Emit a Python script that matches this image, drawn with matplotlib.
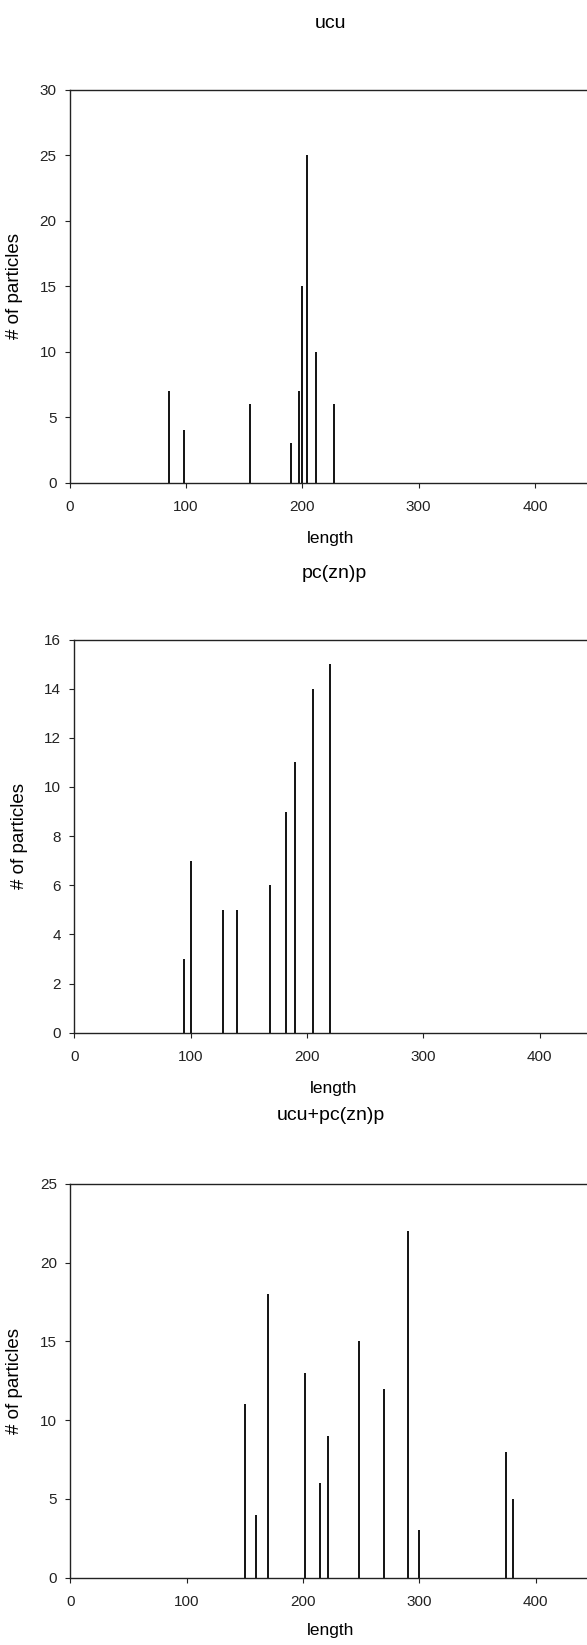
import numpy as np
import matplotlib
matplotlib.use("Agg")
import matplotlib.pyplot as plt

plt.rcParams['font.family'] = ['Liberation Sans', 'DejaVu Sans']

# ucu
ucu_len = [85, 98, 155, 190, 197, 200, 204, 212, 227]
ucu_cnt = [7, 4, 6, 3, 7, 15, 25, 10, 6]

# pc(zn)p
pc_len = [94, 100, 128, 140, 168, 182, 190, 205, 220]
pc_cnt = [3, 7, 5, 5, 6, 9, 11, 14, 15]

# ucu+pc(zn)p
mix_len = [150, 160, 170, 202, 215, 222, 248, 270, 290, 300, 375, 381]
mix_cnt = [11, 4, 18, 13, 6, 9, 15, 12, 22, 3, 8, 5]

titles = ["ucu", "pc(zn)p", "ucu+pc(zn)p"]
ymaxes = [30, 16, 25]
ysteps = [5, 2, 5]

W, H = 587, 1645
fig = plt.figure(figsize=(W / 100, H / 100), dpi=100)

# axes boxes in pixels: left, top, bottom  (x scale ~116 px per 100)
boxes = [(69.7, 89.5, 482.7), (74.4, 639.5, 1032.7), (70.3, 1183.7, 1577.7)]
title_y = [23, 573, 1116]
title_x = [331, 334, 331]
xlab_y = [538, 1088, 1630]
data = [(ucu_len, ucu_cnt), (pc_len, pc_cnt), (mix_len, mix_cnt)]

for i in range(3):
    left, top, bot = boxes[i]
    ax = fig.add_axes([left / W, 1 - bot / H, 697.8 / W, (bot - top) / H])
    x, y = data[i]
    ax.vlines(x, 0, y, colors='black', lw=1.3)
    ax.set_xlim(0, 600)
    ax.set_ylim(0, ymaxes[i])
    ax.set_xticks([0, 100, 200, 300, 400])
    ax.set_yticks(np.arange(0, ymaxes[i] + 1, ysteps[i]))
    ax.tick_params(direction='out', length=3.5, width=0.8, labelsize=11, colors='#222222')
    ax.tick_params(axis='x', pad=9)
    ax.tick_params(axis='y', pad=6)
    for s in ax.spines.values():
        s.set_linewidth(1.0)
        s.set_color('#222222')
    ax.set_ylabel("# of particles", fontsize=13.5, labelpad=12)
    fig.text(title_x[i] / W, 1 - title_y[i] / H, titles[i], ha='center', va='center', fontsize=14)
    fig.text(title_x[i] / W, 1 - xlab_y[i] / H, "length", ha='center', va='center', fontsize=12.5)

fig.savefig("out.png", dpi=100)
